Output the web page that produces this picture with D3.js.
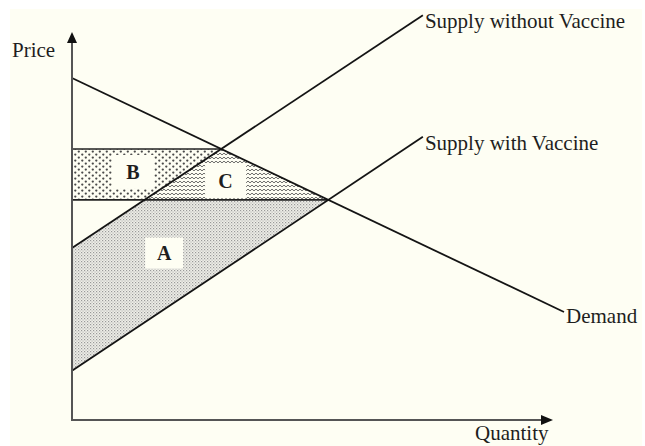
<!DOCTYPE html>
<html>
<head>
<meta charset="utf-8">
<script src="https://cdn.jsdelivr.net/npm/d3@7"></script>
<style>
    html, body { margin: 0; padding: 0; background: #fff; }
    svg text { font-family: "Liberation Serif", "Times New Roman", serif; fill: #1e1e1e; }
</style>
</head>
<body>
<svg id="chart"></svg>
<script>
// curve end points, [quantity, price] in arbitrary units
const demandQ = [0, 10.25];
const demandP = [8.77, 2.77];
const supplyWithoutQ = [0, 7.31];
const supplyWithoutP = [4.41, 10.38];
const supplyWithQ = [0, 7.31];
const supplyWithP = [1.26, 7.26];

const curveNames = ["Demand", "Supply without Vaccine", "Supply with Vaccine"];
const areaNames = ["A", "B", "C"];
const axisTitles = ["Price", "Quantity"];

const width = 645;
const height = 446;

// where the area letters sit (data units) and their blank boxes (px)
const letterPos = { A: [1.92, 4.28], B: [1.27, 6.36], C: [3.2, 6.12] };
const letterBox = { A: [38, 31], B: [42, 34], C: [41, 34] };

const svg = d3.select("#chart")
    .attr("width", width)
    .attr("height", height);

svg.append("rect")
    .attr("x", 10).attr("y", 9)
    .attr("width", 632).attr("height", height - 9)
    .attr("fill", "#fefef3");

const x = d3.scaleLinear().domain([0, 10]).range([72, 552]);
const y = d3.scaleLinear().domain([0, 10]).range([420, 30]);

function makeLine(qs, ps) {
    const m = (ps[1] - ps[0]) / (qs[1] - qs[0]);
    return { m: m, b: ps[0] - m * qs[0], qs: qs, ps: ps };
}
function meet(a, b) {
    const q = (b.b - a.b) / (a.m - b.m);
    return [q, a.b + a.m * q];
}

const demand = makeLine(demandQ, demandP);
const supplyWithout = makeLine(supplyWithoutQ, supplyWithoutP);
const supplyWith = makeLine(supplyWithQ, supplyWithP);

const e1 = meet(demand, supplyWithout); // price without vaccine
const e2 = meet(demand, supplyWith);    // price with vaccine
const k = [(e2[1] - supplyWithout.b) / supplyWithout.m, e2[1]];

// patterns
const defs = svg.append("defs");

const patA = defs.append("pattern")
    .attr("id", "patA").attr("patternUnits", "userSpaceOnUse")
    .attr("width", 3).attr("height", 3);
patA.append("rect").attr("width", 3).attr("height", 3).attr("fill", "#efefe8");
patA.append("rect").attr("x", 0).attr("y", 0).attr("width", 1.2).attr("height", 1.2).attr("fill", "#999");
patA.append("rect").attr("x", 1.5).attr("y", 1.5).attr("width", 1.1).attr("height", 1.1).attr("fill", "#aaa");

const patB = defs.append("pattern")
    .attr("id", "patB").attr("patternUnits", "userSpaceOnUse")
    .attr("width", 7).attr("height", 6);
patB.append("rect").attr("width", 7).attr("height", 6).attr("fill", "#fefef3");
patB.append("circle").attr("cx", 1.8).attr("cy", 1.6).attr("r", 1.15).attr("fill", "#4a4a4a");
patB.append("circle").attr("cx", 5.3).attr("cy", 4.6).attr("r", 1.15).attr("fill", "#4a4a4a");

const patC = defs.append("pattern")
    .attr("id", "patC").attr("patternUnits", "userSpaceOnUse")
    .attr("width", 4).attr("height", 4);
patC.append("rect").attr("width", 4).attr("height", 4).attr("fill", "#fefef3");
patC.append("path").attr("d", "M0,1.1 L2,2.9 L4,1.1")
    .attr("fill", "none").attr("stroke", "#5a5a5a").attr("stroke-width", 0.9);

const area = d3.line().x(d => x(d[0])).y(d => y(d[1]));

const regions = [
    { name: "A", fill: "url(#patA)", pts: [[0, supplyWithout.b], k, e2, [0, supplyWith.b]] },
    { name: "B", fill: "url(#patB)", pts: [[0, e1[1]], e1, k, [0, e2[1]]] },
    { name: "C", fill: "url(#patC)", pts: [k, e1, e2] }
];

svg.selectAll(".region")
    .data(regions)
    .enter()
    .append("path")
    .attr("class", "region")
    .attr("d", d => area(d.pts) + "Z")
    .attr("fill", d => d.fill);

// blank boxes and letters
svg.selectAll(".letter-box")
    .data(areaNames)
    .enter()
    .append("rect")
    .attr("class", "letter-box")
    .attr("x", d => x(letterPos[d][0]) - letterBox[d][0] / 2)
    .attr("y", d => y(letterPos[d][1]) - letterBox[d][1] / 2)
    .attr("width", d => letterBox[d][0])
    .attr("height", d => letterBox[d][1])
    .attr("fill", "#fefef3");

svg.selectAll(".letter")
    .data(areaNames)
    .enter()
    .append("text")
    .attr("class", "letter")
    .attr("x", d => x(letterPos[d][0]))
    .attr("y", d => y(letterPos[d][1]))
    .attr("dy", "0.35em")
    .attr("text-anchor", "middle")
    .style("font-size", "20px")
    .style("font-weight", "bold")
    .text(d => d);

// price levels
svg.selectAll(".price-level")
    .data([e1, e2])
    .enter()
    .append("line")
    .attr("class", "price-level")
    .attr("x1", x(0)).attr("x2", d => x(d[0]))
    .attr("y1", d => y(d[1])).attr("y2", d => y(d[1]))
    .attr("stroke", "#222").attr("stroke-width", 1.6);

// curves
const curves = [demand, supplyWithout, supplyWith];
svg.selectAll(".curve")
    .data(curves)
    .enter()
    .append("line")
    .attr("class", "curve")
    .attr("x1", d => x(d.qs[0])).attr("y1", d => y(d.ps[0]))
    .attr("x2", d => x(d.qs[1])).attr("y2", d => y(d.ps[1]))
    .attr("stroke", "#141414").attr("stroke-width", 1.8);

svg.selectAll(".curve-label")
    .data(curves)
    .enter()
    .append("text")
    .attr("class", "curve-label")
    .attr("x", d => x(d.qs[1]) + 2)
    .attr("y", (d, i) => y(d.ps[1]) + [11, 13, 13][i])
    .style("font-size", "21px")
    .text((d, i) => curveNames[i]);

// axes
svg.append("line")
    .attr("x1", x(0)).attr("y1", y(0) + 1)
    .attr("x2", x(0)).attr("y2", y(10) + 10)
    .attr("stroke", "#555").attr("stroke-width", 2);
svg.append("line")
    .attr("x1", x(0) - 1).attr("y1", y(0))
    .attr("x2", x(10) - 10).attr("y2", y(0))
    .attr("stroke", "#555").attr("stroke-width", 2);

svg.append("path")
    .attr("d", `M${x(0)},${y(10) + 2} L${x(0) - 5},${y(10) + 13} L${x(0) + 5},${y(10) + 13}Z`)
    .attr("fill", "#111");
svg.append("path")
    .attr("d", `M${x(10) + 1},${y(0)} L${x(10) - 11},${y(0) - 5} L${x(10) - 11},${y(0) + 5}Z`)
    .attr("fill", "#111");

svg.append("text")
    .attr("x", 12).attr("y", 57)
    .style("font-size", "21px")
    .text(axisTitles[0]);
svg.append("text")
    .attr("x", 475).attr("y", 440)
    .style("font-size", "21px")
    .text(axisTitles[1]);
</script>
</body>
</html>
